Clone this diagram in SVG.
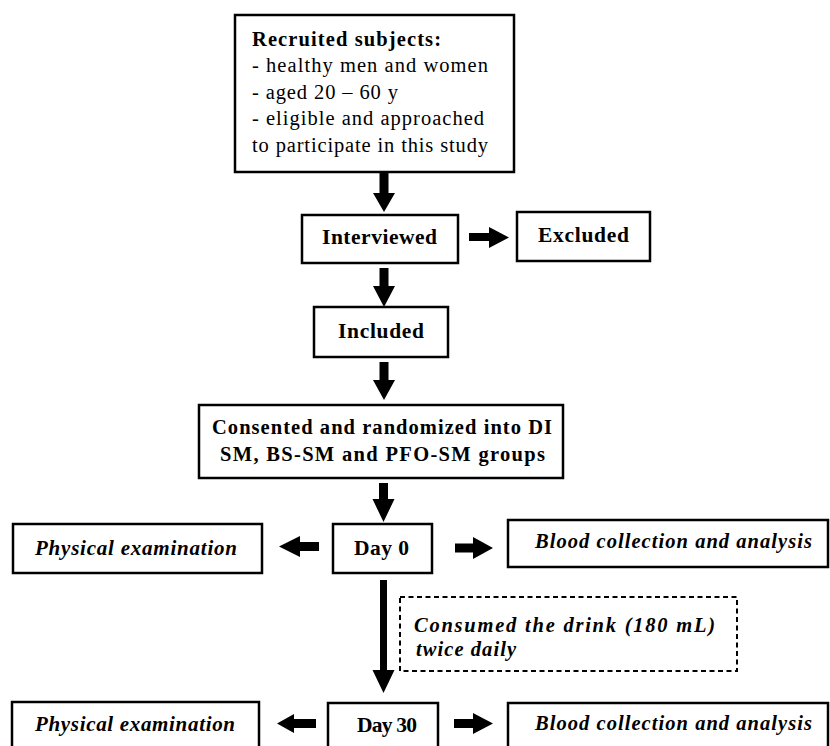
<svg xmlns="http://www.w3.org/2000/svg" width="830" height="746" viewBox="0 0 830 746">
<style>
.box{fill:#fff;stroke:#000;stroke-width:2.5}
.dash{fill:#fff;stroke:#000;stroke-width:2;stroke-dasharray:5 3.5}
.t{font-family:"Liberation Serif","Times New Roman",serif;fill:#000}
.r{font-size:20.5px}
.b{font-weight:bold}
.bi{font-weight:bold;font-style:italic}
.arr{fill:#000}
</style>
<rect width="830" height="746" fill="#fff"/>
<g id="recruited">
<rect class="box" x="235" y="15" width="279" height="157"/>
<text class="t b r" x="252" y="45.5" textLength="189" lengthAdjust="spacing">Recruited subjects:</text>
<text class="t r" x="252" y="72" textLength="236" lengthAdjust="spacing">- healthy men and women</text>
<text class="t r" x="252" y="98.5" textLength="146" lengthAdjust="spacing">- aged 20 – 60 y</text>
<text class="t r" x="252" y="125" textLength="232" lengthAdjust="spacing">- eligible and approached</text>
<text class="t r" x="252" y="151.5" textLength="236" lengthAdjust="spacing">to participate in this study</text>
</g>
<g id="interviewed">
<rect class="box" x="302" y="215" width="156" height="48"/>
<text class="t b" font-size="21.5" x="322" y="244" textLength="115" lengthAdjust="spacing">Interviewed</text>
</g>
<g id="excluded">
<rect class="box" x="517" y="212" width="133" height="49"/>
<text class="t b" font-size="21.5" x="538" y="242" textLength="91" lengthAdjust="spacing">Excluded</text>
</g>
<g id="included">
<rect class="box" x="314" y="307" width="134" height="50"/>
<text class="t b" font-size="21.5" x="338" y="338" textLength="86" lengthAdjust="spacing">Included</text>
</g>
<g id="consented">
<rect class="box" x="199" y="405" width="364" height="73"/>
<text class="t b" font-size="20.5" x="212" y="434" textLength="340" lengthAdjust="spacing">Consented and randomized into DI</text>
<text class="t b" font-size="20.5" x="220" y="461" textLength="325" lengthAdjust="spacing">SM, BS-SM and PFO-SM groups</text>
</g>
<g id="physical0">
<rect class="box" x="13" y="524" width="249" height="49"/>
<text class="t bi" font-size="21" x="35" y="555" textLength="202" lengthAdjust="spacing">Physical examination</text>
</g>
<g id="day0">
<rect class="box" x="333" y="524" width="99" height="49"/>
<text class="t b" font-size="21.5" x="354" y="555" textLength="55" lengthAdjust="spacing">Day 0</text>
</g>
<g id="blood0">
<rect class="box" x="508" y="520" width="320" height="47"/>
<text class="t bi" font-size="20.5" x="535" y="548" textLength="277" lengthAdjust="spacing">Blood collection and analysis</text>
</g>
<g id="consumed">
<rect class="dash" x="400" y="597" width="337" height="74"/>
<text class="t bi" font-size="20.5" x="414" y="632" textLength="301" lengthAdjust="spacing">Consumed the drink (180 mL)</text>
<text class="t bi" font-size="20.5" x="416" y="656" textLength="100" lengthAdjust="spacing">twice daily</text>
</g>
<g id="physical30">
<rect class="box" x="12" y="702" width="247" height="60"/>
<text class="t bi" font-size="21" x="35" y="731" textLength="200" lengthAdjust="spacing">Physical examination</text>
</g>
<g id="day30">
<rect class="box" x="328" y="703" width="110" height="60"/>
<text class="t b" font-size="21.5" x="357" y="732" textLength="60" lengthAdjust="spacing">Day 30</text>
</g>
<g id="blood30">
<rect class="box" x="508" y="703" width="320" height="60"/>
<text class="t bi" font-size="20.5" x="535" y="730" textLength="277" lengthAdjust="spacing">Blood collection and analysis</text>
</g>
<g id="connectors" class="arr">
<polygon points="379.5,173 388.5,173 388.5,193 395,193 384,212 373,193 379.5,193"/>
<polygon points="379.5,268 388.5,268 388.5,286 395,286 384,307 373,286 379.5,286"/>
<polygon points="379.5,362 388.5,362 388.5,380 395,380 384,400 373,380 379.5,380"/>
<polygon points="379,483 388,483 388,499 394.5,499 383.5,522 372.5,499 379,499"/>
<polygon points="380,580 387,580 387,670 394.5,670 383.5,693 372.5,670 380,670"/>
<polygon points="469,233 489,233 489,227 509,237.5 489,248 489,241 469,241"/>
<polygon points="319,542 300,542 300,536 279,546.5 300,557 300,551 319,551"/>
<polygon points="455,543.5 473,543.5 473,537 493,548 473,559 473,552.5 455,552.5"/>
<polygon points="316,719 294,719 294,714 277,723.5 294,733 294,728 316,728"/>
<polygon points="454,719 473,719 473,713 493,723.5 473,734 473,728 454,728"/>
</g>
</svg>
